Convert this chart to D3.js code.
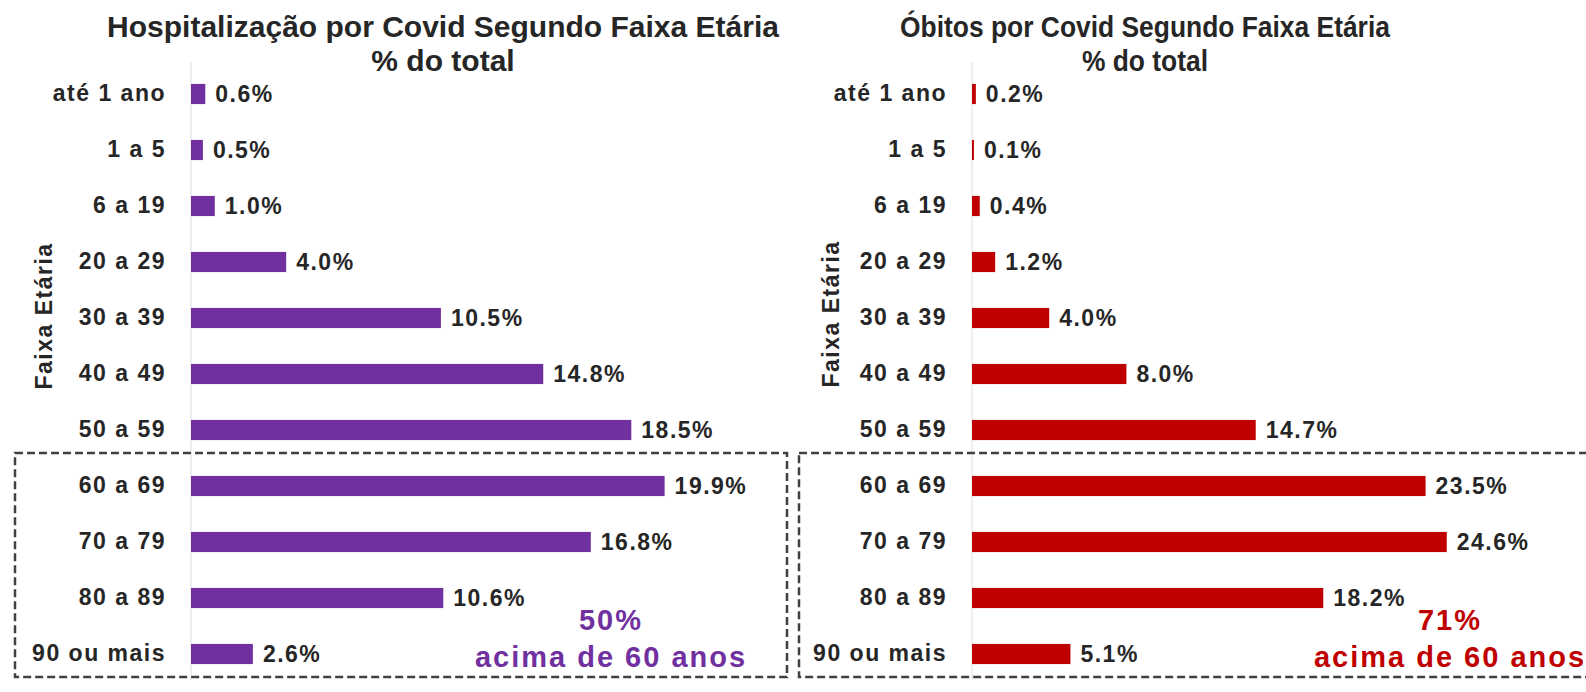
<!DOCTYPE html>
<html>
<head>
<meta charset="utf-8">
<script src="https://cdn.jsdelivr.net/npm/d3@7"></script>
<style>
  body { margin: 0; background: #fff; }
  text { font-family: "Liberation Sans", Arial, sans-serif; }
</style>
</head>
<body>
<div id="chart"></div>
<script>
// Data
var categories = ["até 1 ano", "1 a 5", "6 a 19", "20 a 29", "30 a 39", "40 a 49",
                  "50 a 59", "60 a 69", "70 a 79", "80 a 89", "90 ou mais"];
var hospValues = [0.6, 0.5, 1.0, 4.0, 10.5, 14.8, 18.5, 19.9, 16.8, 10.6, 2.6];
var obitoValues = [0.2, 0.1, 0.4, 1.2, 4.0, 8.0, 14.7, 23.5, 24.6, 18.2, 5.1];
var titles = ["Hospitalização por Covid Segundo Faixa Etária", "Óbitos por Covid Segundo Faixa Etária"];
var subtitle = "% do total";
var axisTitle = "Faixa Etária";
var notes = [["50%", "acima de 60 anos"], ["71%", "acima de 60 anos"]];

var width = 1586, height = 692;

var svg = d3.select("#chart")
  .append("svg")
    .attr("width", width)
    .attr("height", height);

// shared Y scale
var y = d3.scaleBand()
  .domain(categories)
  .range([66, 682])
  .paddingInner(0.64)
  .paddingOuter(0.32);

var panels = [
  {values: hospValues, color: "#7030A0", x0: 191, pxPer: 23.8, title: titles[0], cx: 443, titleScale: 1,
   axisX: 44, axisY: 316, box: [15, 787], note: notes[0], noteX: 611},
  {values: obitoValues, color: "#C00000", x0: 972, pxPer: 19.3, title: titles[1], cx: 1145, titleScale: 0.88,
   axisX: 831, axisY: 314, box: [799, 1600], note: notes[1], noteX: 1450}
];

panels.forEach(function(p) {
  var data = categories.map(function(c, i) { return {cat: c, val: p.values[i]}; });

  var x = d3.scaleLinear()
    .domain([0, 25])
    .range([p.x0, p.x0 + 25 * p.pxPer]);

  // Title (two lines)
  [p.title, subtitle].forEach(function(t, i) {
    svg.append("text")
      .attr("transform", "translate(" + p.cx + "," + (37 + i * 34) + ") scale(" + p.titleScale + ",1)")
      .attr("text-anchor", "middle")
      .style("font-size", "30px")
      .style("font-weight", "bold")
      .style("fill", "#262626")
      .text(t);
  });

  // light baseline
  svg.append("line")
    .attr("x1", x(0)).attr("x2", x(0))
    .attr("y1", 62).attr("y2", 680)
    .attr("stroke", "#e8e8e8")
    .attr("stroke-width", 1.5);

  // Y axis labels
  var yAxis = svg.append("g")
    .attr("transform", "translate(" + x(0) + ",0)")
    .call(d3.axisLeft(y).tickSize(0).tickPadding(25));
  yAxis.select(".domain").remove();
  yAxis.selectAll("text")
    .style("font-size", "23px")
    .style("font-weight", "bold")
    .style("letter-spacing", "1.5px")
    .style("fill", "#262626");

  // Y axis title
  svg.append("text")
    .attr("transform", "translate(" + (p.axisX + 8) + "," + p.axisY + ") rotate(-90)")
    .attr("text-anchor", "middle")
    .style("font-size", "23px")
    .style("font-weight", "bold")
    .style("letter-spacing", "1.5px")
    .style("fill", "#262626")
    .text(axisTitle);

  // Bars
  svg.selectAll(null)
    .data(data)
    .enter()
    .append("rect")
      .attr("x", x(0))
      .attr("y", function(d) { return y(d.cat); })
      .attr("width", function(d) { return x(d.val) - x(0); })
      .attr("height", y.bandwidth())
      .attr("fill", p.color);

  // Value labels
  svg.selectAll(null)
    .data(data)
    .enter()
    .append("text")
      .attr("x", function(d) { return x(d.val) + 10; })
      .attr("y", function(d) { return y(d.cat) + y.bandwidth() / 2; })
      .attr("dy", "0.35em")
      .style("font-size", "23px")
      .style("font-weight", "bold")
      .style("letter-spacing", "1.5px")
      .style("fill", "#262626")
      .text(function(d) { return d.val.toFixed(1) + "%"; });

  // Dashed box around 60+
  var top = y("60 a 69") - 23;
  var bottom = y("90 ou mais") + y.bandwidth() + 13;
  svg.append("rect")
    .attr("x", p.box[0])
    .attr("y", top)
    .attr("width", p.box[1] - p.box[0])
    .attr("height", bottom - top)
    .attr("fill", "none")
    .attr("stroke", "#404040")
    .attr("stroke-width", 2.5)
    .attr("stroke-dasharray", "8,4");

  // Annotation
  svg.append("text")
    .attr("x", p.noteX)
    .attr("y", 630)
    .attr("text-anchor", "middle")
    .style("font-size", "29px")
    .style("font-weight", "bold")
    .style("letter-spacing", "2px")
    .style("fill", p.color)
    .text(p.note[0]);
  svg.append("text")
    .attr("x", p.noteX)
    .attr("y", 667)
    .attr("text-anchor", "middle")
    .style("font-size", "29px")
    .style("font-weight", "bold")
    .style("letter-spacing", "2px")
    .style("fill", p.color)
    .text(p.note[1]);
});
</script>
</body>
</html>
